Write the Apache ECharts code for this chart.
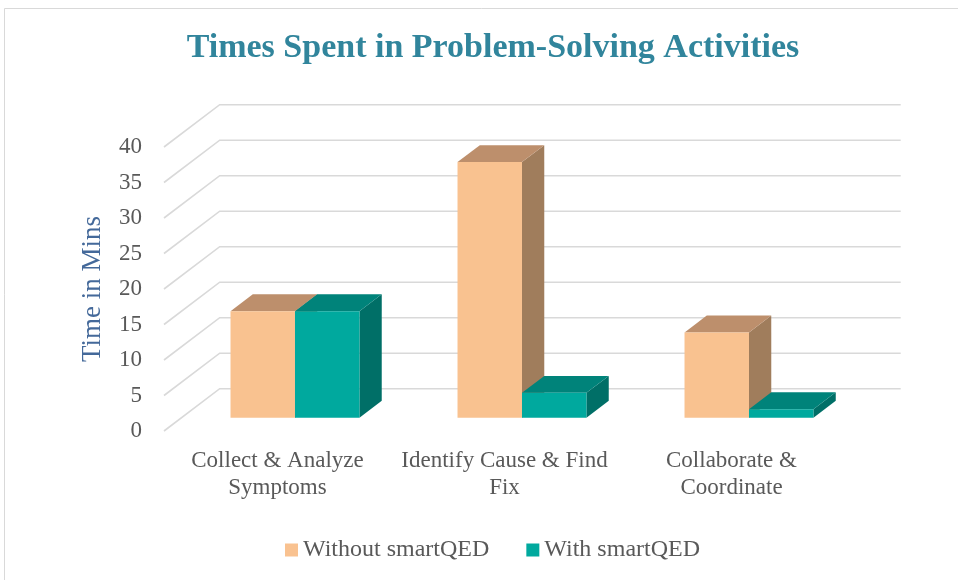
<!DOCTYPE html>
<html>
<head>
<meta charset="utf-8">
<script src="https://cdn.jsdelivr.net/npm/echarts@6/dist/echarts.min.js"></script>
<style>
  html, body { margin: 0; padding: 0; background: #fff; }
  #chart { width: 958px; height: 580px; }
</style>
</head>
<body>
<div id="chart"></div>
<script>
const categories = [
  "Collect & Analyze\nSymptoms",
  "Identify Cause & Find\nFix",
  "Collaborate &\nCoordinate",
];
const withoutSmartQED = [15, 36, 12];
const withSmartQED = [15, 3.5, 1.2];
const gridValues = [0, 5, 10, 15, 20, 25, 30, 35, 40];

// fake 3d: how far the back wall sits from the front plane
const DEPTH_DX = 55.7;
const DEPTH_DY = 42.3;
const BAR_FRONT = 0.314; // where bar fronts sit, fraction of full depth
const BAR_DEPTH = 0.4;
const BAR_W = 0.284; // of category band

const FONT = "'Liberation Serif', 'DejaVu Serif', serif";

const chart = echarts.init(document.getElementById("chart"));

const makeBarRender = (seriesIdx, colors) => (params, api) => {
  const base = api.coord([api.value(0), 0]);
  const top = api.coord([api.value(0), api.value(1)]);
  const band = api.size([1, 0])[0];
  const w = band * BAR_W;
  const sx = BAR_FRONT * DEPTH_DX;
  const sy = -BAR_FRONT * DEPTH_DY;
  const ddx = BAR_DEPTH * DEPTH_DX;
  const ddy = -BAR_DEPTH * DEPTH_DY;
  const x0 = (seriesIdx === 0 ? base[0] - w : base[0]) + sx;
  const x1 = x0 + w;
  const yT = top[1] + sy;
  const yB = base[1] + sy;
  return {
    type: "group",
    children: [
      {
        type: "polygon",
        shape: { points: [[x1, yT], [x1 + ddx, yT + ddy], [x1 + ddx, yB + ddy], [x1, yB]] },
        style: { fill: colors.side },
      },
      {
        type: "polygon",
        shape: { points: [[x0, yT], [x1, yT], [x1 + ddx, yT + ddy], [x0 + ddx, yT + ddy]] },
        style: { fill: colors.top },
      },
      {
        type: "rect",
        shape: { x: x0, y: yT, width: w, height: yB - yT },
        style: { fill: colors.front },
      },
    ],
  };
};

const options = {
  animation: false,
  title: {
    text: "Times Spent in Problem-Solving Activities",
    left: 488,
    textAlign: "center",
    top: 26,
    textStyle: {
      fontFamily: FONT,
      fontSize: 34,
      fontWeight: "bold",
      color: "#31859C",
    },
  },
  graphic: [
    {
      type: "rect",
      shape: { x: 4.5, y: 8.5, width: 1000, height: 1000 },
      style: { fill: null, stroke: "#D9D9D9", lineWidth: 1 },
      silent: true,
    },
  ],
  legend: {
    left: 280,
    top: 533,
    itemWidth: 13,
    itemHeight: 13,
    itemGap: 37,
    icon: "rect",
    data: ["Without smartQED", "With smartQED"],
    textStyle: { fontFamily: FONT, fontSize: 24, color: "#595959" },
  },
  grid: {
    left: 164,
    right: 113,
    top: 147,
    bottom: 149,
    containLabel: false,
  },
  xAxis: {
    type: "category",
    data: categories,
    axisLine: { show: false },
    axisTick: { show: false },
    splitLine: { show: false },
    axisLabel: {
      margin: 16,
      interval: 0,
      fontFamily: FONT,
      fontSize: 23,
      lineHeight: 27,
      color: "#595959",
    },
  },
  yAxis: {
    type: "value",
    min: 0,
    max: 40,
    interval: 5,
    name: "Time in Mins",
    nameLocation: "middle",
    nameGap: 58,
    nameTextStyle: { fontFamily: FONT, fontSize: 27, color: "#44699A" },
    axisLine: { show: false },
    axisTick: { show: false },
    splitLine: { show: false },
    axisLabel: { margin: 22, fontFamily: FONT, fontSize: 23, color: "#595959" },
  },
  series: [
    {
      name: "walls",
      type: "custom",
      silent: true,
      z: 1,
      data: gridValues.map((v) => [0, v]),
      renderItem: (params, api) => {
        const cs = params.coordSys;
        const y = api.coord([0, api.value(1)])[1];
        return {
          type: "polyline",
          shape: {
            points: [
              [cs.x, y],
              [cs.x + DEPTH_DX, y - DEPTH_DY],
              [cs.x + cs.width + DEPTH_DX, y - DEPTH_DY],
            ],
          },
          style: { stroke: "#D9D9D9", lineWidth: 1.6, fill: null },
        };
      },
    },
    {
      name: "Without smartQED",
      type: "custom",
      z: 2,
      itemStyle: { color: "#F9C290" },
      data: withoutSmartQED.map((v, i) => [i, v]),
      renderItem: makeBarRender(0, { front: "#F9C290", top: "#BD8F6C", side: "#A07D5C" }),
    },
    {
      name: "With smartQED",
      type: "custom",
      z: 3,
      itemStyle: { color: "#00A99E" },
      data: withSmartQED.map((v, i) => [i, v]),
      renderItem: makeBarRender(1, { front: "#00A99E", top: "#00837A", side: "#006F67" }),
    },
  ],
};

chart.setOption(options);
</script>
</body>
</html>
